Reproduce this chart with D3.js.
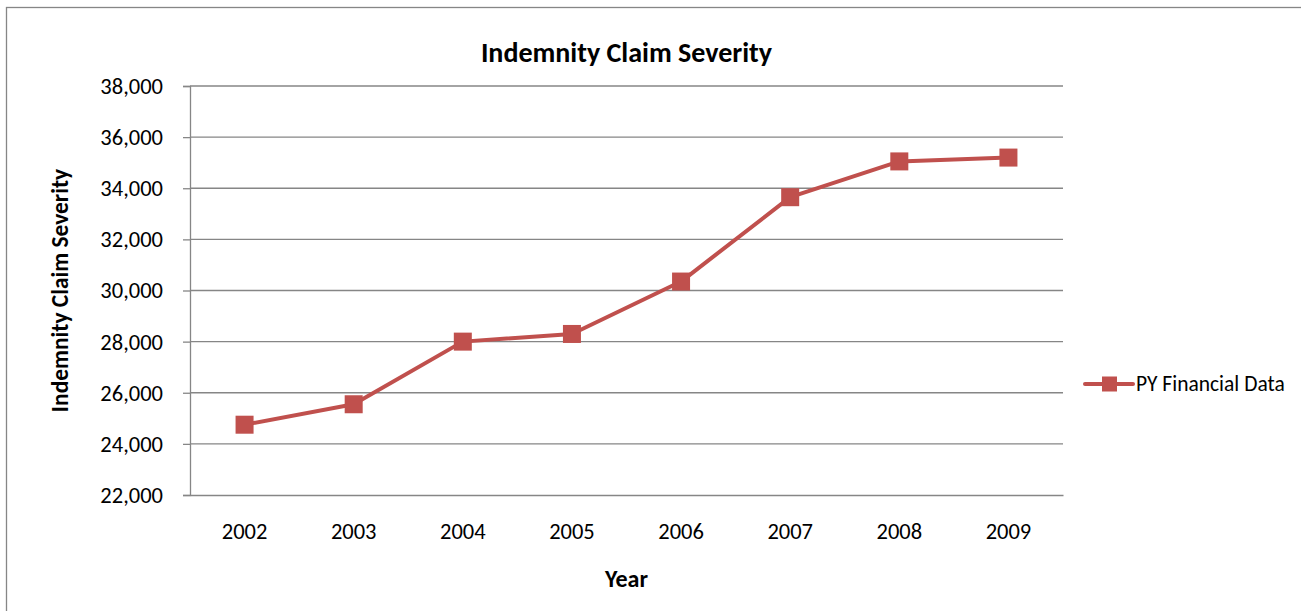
<!DOCTYPE html>
<html>
<head>
<meta charset="utf-8">
<script src="https://cdn.jsdelivr.net/npm/d3@7"></script>
<style>
  body { margin: 0; background: #fff; }
  svg text { font-family: Carlito, Lato, "Open Sans", sans-serif; fill: #000; }
  .axis path, .axis line { stroke: #868686; }
</style>
</head>
<body>
<svg width="1301" height="611"></svg>
<script>
  // values
  const years = ['2002', '2003', '2004', '2005', '2006', '2007', '2008', '2009'];
  const severity = [24750, 25550, 28000, 28300, 30350, 33650, 35050, 35200];
  const yTicks = [22000, 24000, 26000, 28000, 30000, 32000, 34000, 36000, 38000];
  const seriesName = 'PY Financial Data';

  const data = years.map((yr, i) => ({year: yr, value: severity[i]}));

  const svg = d3.select('svg');
  const margin = {top: 86, right: 238, bottom: 116, left: 190};
  const width = 1301 - margin.left - margin.right;
  const height = 611 - margin.top - margin.bottom;
  const red = '#C0504D';

  // outer chart border
  svg.append('rect')
    .attr('x', 6.5).attr('y', 7.5)
    .attr('width', 1310).attr('height', 620)
    .attr('fill', 'none')
    .attr('stroke', '#868686')
    .attr('stroke-width', 1.3);

  const g = svg.append('g')
    .attr('transform', 'translate(' + margin.left + ',' + margin.top + ')');

  const x = d3.scaleBand().domain(years).range([0, width]).padding(0);
  const y = d3.scaleLinear().domain([22000, 38000]).range([height, 0]);

  // gridlines
  g.append('g')
    .selectAll('line')
    .data(yTicks.slice(1))
    .enter()
    .append('line')
      .attr('x1', 0).attr('x2', width)
      .attr('y1', d => y(d)).attr('y2', d => y(d))
      .attr('stroke', '#868686')
      .attr('stroke-width', 1.3);

  // y axis
  g.append('g')
    .attr('class', 'axis axis-y')
    .call(d3.axisLeft(y).tickValues(yTicks).tickFormat(d3.format(',')).tickSizeOuter(0).tickSize(7).tickPadding(20))
    .call(a => a.selectAll('path, line').attr('stroke-width', 1.3))
    .call(a => a.selectAll('text').attr('font-size', 22.5).attr('dy', '0.33em'));

  // x axis
  g.append('g')
    .attr('class', 'axis axis-x')
    .attr('transform', 'translate(0,' + height + ')')
    .call(d3.axisBottom(x).tickSize(0).tickSizeOuter(0))
    .call(a => a.selectAll('path').attr('stroke-width', 1.3))
    .call(a => a.selectAll('text').attr('font-size', 22.5).attr('y', 44).attr('dy', 0));

  // line
  const line = d3.line()
    .x(d => x(d.year) + x.bandwidth() / 2)
    .y(d => y(d.value));

  g.append('path')
    .datum(data)
    .attr('fill', 'none')
    .attr('stroke', red)
    .attr('stroke-width', 4)
    .attr('stroke-linejoin', 'round')
    .attr('d', line);

  const ms = 18;
  g.selectAll('.marker')
    .data(data)
    .enter()
    .append('rect')
      .attr('class', 'marker')
      .attr('x', d => x(d.year) + x.bandwidth() / 2 - ms / 2)
      .attr('y', d => y(d.value) - ms / 2)
      .attr('width', ms).attr('height', ms)
      .attr('fill', red);

  // titles
  svg.append('text')
    .attr('x', margin.left + width / 2).attr('y', 62)
    .attr('text-anchor', 'middle')
    .attr('font-weight', 'bold')
    .attr('font-size', 28)
    .text('Indemnity Claim Severity');

  svg.append('text')
    .attr('transform', 'translate(68,' + (margin.top + height / 2) + ') rotate(-90)')
    .attr('text-anchor', 'middle')
    .attr('font-weight', 'bold')
    .attr('font-size', 23.4)
    .text('Indemnity Claim Severity');

  svg.append('text')
    .attr('x', margin.left + width / 2).attr('y', 587)
    .attr('text-anchor', 'middle')
    .attr('font-weight', 'bold')
    .attr('font-size', 24)
    .text('Year');

  // legend
  const leg = svg.append('g').attr('transform', 'translate(1085,384)');
  leg.append('line')
    .attr('x1', 0).attr('x2', 48)
    .attr('stroke', red).attr('stroke-width', 4).attr('stroke-linecap', 'round');
  leg.append('rect')
    .attr('x', 17).attr('y', -7.5).attr('width', 15).attr('height', 15)
    .attr('fill', red);
  leg.append('text')
    .attr('x', 51).attr('y', 0).attr('dy', '0.33em')
    .attr('font-size', 21.5)
    .text(seriesName);
</script>
</body>
</html>
